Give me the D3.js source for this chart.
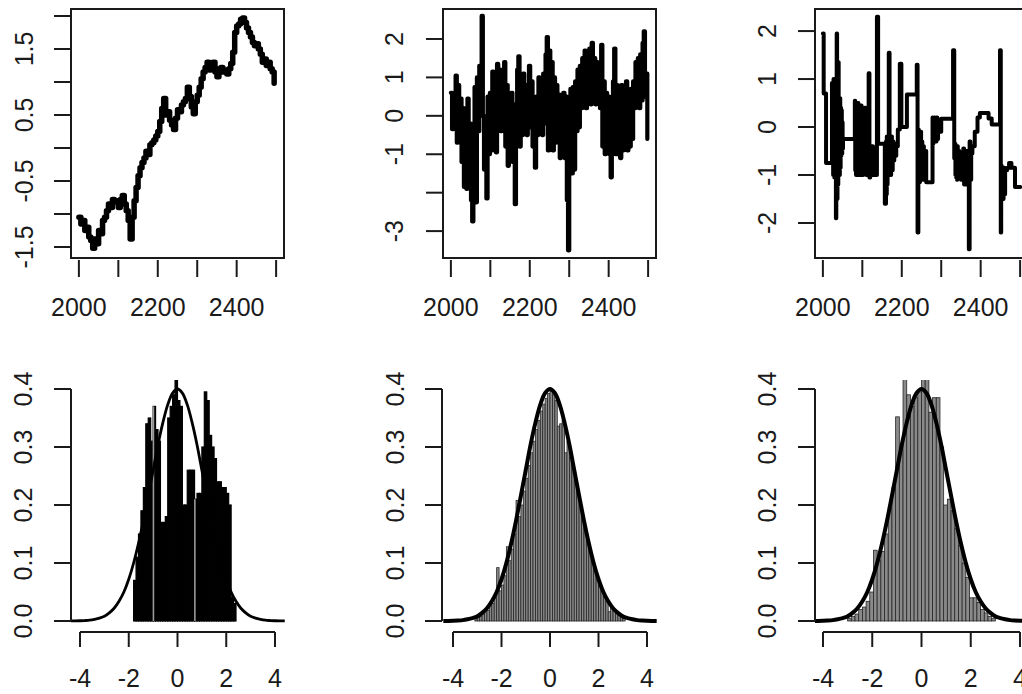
<!DOCTYPE html>
<html><head><meta charset="utf-8">
<script src="https://cdn.jsdelivr.net/npm/d3@7"></script>
<style>
html,body{margin:0;padding:0;background:#fff;}
svg{display:block;}
text{font-family:"Liberation Sans",Arial,sans-serif;font-size:25px;fill:#1a1a1a;}
</style></head>
<body>
<div id="chart"></div>
<script>
// ---------------- DATA ----------------
// Panel 1: random walk (every 5 years from 2000)
const rwStart = 2000, rwStep = 5;
const rwValues = [-1.05,-1.15,-1.10,-1.25,-1.20,-1.35,-1.40,-1.52,-1.38,-1.45,
  -1.25,-1.30,-1.10,-1.05,-0.95,-0.85,-0.90,-0.78,-0.82,-0.80,
  -0.90,-0.78,-0.72,-0.85,-0.95,-1.10,-1.38,-1.05,-0.80,-0.60,
  -0.42,-0.30,-0.22,-0.15,-0.05,-0.10,0.05,0.08,0.12,0.18,
  0.25,0.40,0.60,0.75,0.50,0.55,0.42,0.35,0.28,0.45,
  0.58,0.55,0.65,0.70,0.75,0.92,0.78,0.62,0.52,0.70,
  0.80,0.92,1.05,1.15,1.22,1.30,1.18,1.28,1.30,1.15,
  1.08,1.20,1.22,1.15,1.18,1.12,1.20,1.28,1.45,1.75,
  1.85,1.88,1.95,1.97,1.90,1.82,1.75,1.68,1.60,1.55,
  1.58,1.50,1.42,1.30,1.35,1.25,1.30,1.20,1.15,0.98];

// Panel 2: stationary noisy series (every 3 years from 2000)
const nzStart = 2000, nzStep = 3;
const nzValues = [0.60,-0.35,0.50,-0.30,1.05,-0.70,0.80,-0.50,0.45,-1.20,
  0.20,-1.85,-0.30,-1.90,0.45,-1.70,-0.20,-2.20,-2.75,-1.90,
  0.75,-2.25,1.00,-0.40,1.30,0.00,2.60,0.00,-1.40,-0.20,
  -2.15,0.50,-1.00,0.60,-0.90,1.15,-0.60,0.90,-0.95,1.35,
  -0.30,1.20,-0.40,1.00,0.10,1.40,-0.80,0.80,-1.30,0.50,
  -0.90,0.60,-1.20,0.30,-2.30,-0.40,1.20,1.55,-0.80,0.90,
  -0.50,1.10,-0.40,0.80,-0.50,0.60,1.30,-0.30,0.90,-0.80,
  0.40,-1.35,0.50,-0.50,1.00,-0.30,0.90,-0.50,1.10,-0.20,
  1.60,2.05,-0.90,1.70,-0.60,1.40,-0.90,1.00,-0.70,0.80,
  -0.40,0.55,-1.10,0.40,-0.90,0.60,-1.10,0.50,-2.20,-3.50,
  -1.20,0.70,-1.50,0.75,-1.40,0.90,-0.40,1.20,-0.30,1.30,
  0.20,1.50,0.30,1.70,0.20,1.60,0.40,1.75,0.30,1.90,
  0.40,1.50,0.30,1.40,0.35,1.30,0.20,1.85,-0.80,0.90,
  -1.00,0.60,-0.90,0.50,-1.00,-1.60,0.20,0.90,1.75,-1.00,
  0.80,-1.00,0.70,-1.10,0.80,-0.90,0.70,-0.80,0.90,-0.90,
  0.60,-0.80,0.70,-0.60,0.90,0.20,1.40,0.30,1.50,0.20,
  1.60,0.40,1.90,2.20,0.50,1.10,-0.60];

// Panel 3: regime-switching step series, [year, value]
const swPoints = [
  [2000,1.95],[2002,0.70],[2008,-0.75],
  [2023,0.92],[2024,-0.70],[2025,0.40],[2026,-1.00],[2027,1.00],[2028,-0.60],[2029,-1.05],[2030,0.60],
  [2031,-0.80],[2032,0.50],[2033,-1.90],[2034,0.20],[2035,1.95],[2036,-1.50],[2037,0.80],[2038,-1.20],
  [2039,1.35],[2040,-0.90],[2041,0.50],[2042,-1.00],[2043,0.60],[2044,-0.85],[2045,0.40],[2046,-0.60],
  [2047,0.35],[2048,-0.55],[2049,0.10],[2050,-0.45],[2051,-0.25],
  [2081,0.55],[2082,-0.90],[2083,0.50],[2084,-1.00],[2085,0.30],[2086,-0.95],[2087,0.45],[2088,-0.70],
  [2089,0.50],[2090,-1.00],[2091,0.20],[2092,-0.95],[2093,0.40],[2094,-0.80],[2095,0.30],[2096,-1.00],
  [2097,0.45],[2098,-0.60],[2099,0.20],[2100,-1.00],[2102,0.00],[2104,-0.95],[2106,0.40],[2108,-0.60],
  [2110,-1.00],[2112,0.10],[2114,-0.90],[2116,1.12],[2118,-1.05],[2120,-0.40],[2122,-1.00],[2124,-0.40],[2127,-1.00],
  [2137,2.30],[2140,-0.35],
  [2157,-1.60],[2158,-0.40],[2159,-1.60],[2160,-0.30],[2161,-1.40],[2162,-0.20],[2163,-1.20],[2164,-0.40],
  [2165,-1.00],[2167,1.55],[2169,-0.50],[2171,-1.00],[2173,-0.20],[2175,-0.90],[2177,-0.30],[2179,-0.70],
  [2181,-0.35],[2183,-0.60],[2186,-0.40],[2190,-0.05],[2195,1.32],[2199,0.00],[2213,0.68],[2238,1.30],[2240,-2.20],
  [2242,-0.05],[2243,-1.10],[2244,-0.10],[2245,-1.15],[2246,-0.20],[2247,-1.00],[2248,-0.10],[2249,-1.10],
  [2250,-0.30],[2252,-1.00],[2254,-0.40],[2256,-1.10],[2258,-0.50],[2262,-1.15],
  [2278,0.20],[2279,-0.35],[2280,0.15],[2281,-0.30],[2282,0.20],[2283,-0.25],[2284,0.15],[2286,-0.30],
  [2288,0.20],[2290,-0.25],[2292,0.15],[2295,-0.10],[2300,0.17],[2330,1.60],[2333,-0.65],
  [2335,-0.35],[2336,-1.00],[2337,-0.40],[2338,-1.05],[2339,-0.55],[2340,-1.10],[2341,-0.40],[2342,-1.00],
  [2344,-0.50],[2346,-1.05],[2348,-0.55],[2350,-1.10],[2352,-0.60],[2354,-0.85],[2356,-0.45],[2358,-1.20],
  [2360,-0.60],[2362,-1.00],[2364,-0.50],[2366,-1.20],[2368,-0.80],[2370,-2.55],[2372,-0.30],[2374,-1.10],
  [2376,-0.55],[2379,-0.40],[2385,-0.10],[2392,0.20],[2398,0.29],[2420,0.18],[2428,0.05],
  [2449,1.60],[2451,-2.20],[2452,-0.80],[2453,-1.50],[2454,-0.85],[2455,-1.45],[2456,-0.90],[2457,-1.50],
  [2458,-0.85],[2460,-1.40],[2462,-0.90],[2467,-0.85],[2472,-0.75],[2478,-0.85],[2487,-1.25],[2500,-1.25]
];

// Shared density curve (x from -4.4 to 4.4 by 0.2)
const densX = [-4.4,-4.2,-4.0,-3.8,-3.6,-3.4,-3.2,-3.0,-2.8,-2.6,-2.4,-2.2,-2.0,-1.8,-1.6,-1.4,-1.2,-1.0,-0.8,-0.6,-0.4,-0.2,
  0.0,0.2,0.4,0.6,0.8,1.0,1.2,1.4,1.6,1.8,2.0,2.2,2.4,2.6,2.8,3.0,3.2,3.4,3.6,3.8,4.0,4.2,4.4];
const densY = [0.0001,0.0002,0.0004,0.0008,0.0015,0.003,0.005,0.008,0.014,0.022,0.034,0.050,0.072,0.100,0.134,0.173,0.216,0.260,0.304,0.342,0.373,0.393,
  0.400,0.393,0.373,0.342,0.304,0.260,0.216,0.173,0.134,0.100,0.072,0.050,0.034,0.022,0.014,0.008,0.005,0.003,0.0015,0.0008,0.0004,0.0002,0.0001];

// Histogram 1 (bins of 0.1 from -1.8)
const h1Start = -1.8, h1Width = 0.1;
const h1Heights = [0.07,0.11,0.15,0.19,0.23,0.34,0.35,0.31,0.37,0.33,
  0.31,0.17,0.17,0.18,0.35,0.37,0.39,0.415,0.38,0.37,
  0.20,0.20,0.26,0.26,0.26,0.21,0.22,0.22,0.30,0.395,
  0.38,0.32,0.30,0.28,0.24,0.24,0.23,0.23,0.22,0.20,
  0.04,0.03];
const h1Light = [-1.0, 0.7];

// Histogram 2 (bins of 0.1 from -3.1)
const h2Start = -3.1, h2Width = 0.1;
const h2Heights = [0.004,0.006,0.008,0.012,0.016,0.018,0.026,0.030,0.040,0.092,
  0.052,0.062,0.078,0.128,0.104,0.124,0.150,0.208,0.180,0.200,
  0.224,0.246,0.268,0.290,0.310,0.330,0.346,0.362,0.374,0.384,
  0.392,0.396,0.390,0.380,0.336,0.340,0.346,0.290,0.310,0.282,
  0.268,0.246,0.224,0.200,0.180,0.160,0.140,0.122,0.106,0.090,
  0.076,0.064,0.052,0.044,0.036,0.016,0.024,0.018,0.014,0.010,
  0.008,0.005];

// Histogram 3 (bins of 0.15 from -3.0)
const h3Start = -3.0, h3Width = 0.15;
const h3Heights = [0.004,0.008,0.012,0.020,0.024,0.034,0.050,0.122,0.105,0.120,
  0.150,0.195,0.230,0.352,0.300,0.430,0.390,0.370,0.385,0.395,
  0.430,0.430,0.360,0.385,0.385,0.300,0.200,0.210,0.190,0.160,
  0.130,0.100,0.075,0.040,0.040,0.032,0.020,0.014,0.008,0.004];

// Ticks
const yearTicks = [2000,2100,2200,2300,2400,2500];
const yearLabels = [2000,2200,2400];
const p1YTicks = [-1.5,-1.0,-0.5,0.0,0.5,1.0,1.5,2.0];
const p1YLabels = ["-1.5","-0.5","0.5","1.5"];
const p2YTicks = [-3,-2,-1,0,1,2];
const p2YLabels = ["-3","-1","0","1","2"];
const p3YTicks = [-2,-1,0,1,2];
const p3YLabels = ["-2","-1","0","1","2"];
const hxTicks = [-4,-2,0,2,4];
const hyTicks = [0.0,0.1,0.2,0.3,0.4];
const hyLabels = ["0.0","0.1","0.2","0.3","0.4"];

// ---------------- LAYOUT ----------------
const W = 1022, H = 694;
const svg = d3.select("#chart").append("svg").attr("width", W).attr("height", H);

const topPanels = [
  {box:[71,284,9,258], yDom:[-1.667,2.106], labelX:24, yTicks:p1YTicks, yLabels:p1YLabels,
   data: rwValues.map((v,i)=>[rwStart+i*rwStep, v]), sw:5.5},
  {box:[443,656,9,258], yDom:[-3.70,2.78], labelX:394, yTicks:p2YTicks, yLabels:p2YLabels,
   data: nzValues.map((v,i)=>[nzStart+i*nzStep, v]), sw:4.2},
  {box:[815,1028,9,258], yDom:[-2.73,2.46], labelX:767, yTicks:p3YTicks, yLabels:p3YLabels,
   data: swPoints, sw:4}
];

topPanels.forEach((p,pi)=>{
  const [x0,x1,y0,y1] = p.box;
  const x = d3.scaleLinear().domain([1980,2520]).range([x0,x1]);
  const y = d3.scaleLinear().domain(p.yDom).range([y1,y0]);
  const g = svg.append("g");
  const cid = "clipT"+pi;
  svg.append("clipPath").attr("id",cid).append("rect")
    .attr("x",x0).attr("y",y0).attr("width",x1-x0).attr("height",y1-y0);
  g.append("path").datum(p.data)
    .attr("clip-path","url(#"+cid+")")
    .attr("fill","none").attr("stroke","#000").attr("stroke-width",p.sw)
    .attr("stroke-linejoin","round").attr("stroke-linecap","round")
    .attr("d", d3.line().x(d=>x(d[0])).y(d=>y(d[1])).curve(d3.curveStepAfter));
  // box
  g.append("rect").attr("x",x0).attr("y",y0).attr("width",x1-x0).attr("height",y1-y0)
    .attr("fill","none").attr("stroke","#1a1a1a").attr("stroke-width",2);
  // y axis ticks
  g.selectAll(".yt").data(p.yTicks).enter().append("line")
    .attr("x1",x0-17).attr("x2",x0).attr("y1",d=>y(d)).attr("y2",d=>y(d))
    .attr("stroke","#1a1a1a").attr("stroke-width",2);
  g.selectAll(".yl").data(p.yLabels).enter().append("text")
    .attr("text-anchor","middle").attr("dominant-baseline","central")
    .attr("transform",d=>`translate(${p.labelX},${y(+d)}) rotate(-90)`)
    .text(d=>d);
  // x axis ticks
  g.selectAll(".xt").data(yearTicks).enter().append("line")
    .attr("x1",d=>x(d)).attr("x2",d=>x(d)).attr("y1",y1+2).attr("y2",y1+19)
    .attr("stroke","#1a1a1a").attr("stroke-width",2);
  g.selectAll(".xl").data(yearLabels).enter().append("text")
    .attr("text-anchor","middle").attr("x",d=>x(d)).attr("y",316).text(d=>d);
});

const botPanels = [
  {axisX:71, xr:[80,275], clip:[71,286], labelX:23, start:h1Start, w:h1Width, heights:h1Heights,
   fill:"#000", stroke:"#000", strokeW:1.2, light:h1Light, curveW:2.8},
  {axisX:442, xr:[453,647], clip:[442,657], labelX:395, start:h2Start, w:h2Width, heights:h2Heights,
   fill:"#8a8a8a", stroke:"#262626", strokeW:0.8, light:[], curveW:4},
  {axisX:815, xr:[823,1020], clip:[815,1030], labelX:767, start:h3Start, w:h3Width, heights:h3Heights,
   fill:"#8a8a8a", stroke:"#262626", strokeW:0.8, light:[], curveW:4}
];

botPanels.forEach((p,pi)=>{
  const x = d3.scaleLinear().domain([-4,4]).range(p.xr);
  const y = d3.scaleLinear().domain([0,0.4]).range([621,389]);
  const g = svg.append("g");
  const cid = "clipB"+pi;
  svg.append("clipPath").attr("id",cid).append("rect")
    .attr("x",p.clip[0]).attr("y",380).attr("width",p.clip[1]-p.clip[0]).attr("height",250);
  const bins = p.heights.map((h,i)=>({x0:p.start+i*p.w, x1:p.start+(i+1)*p.w, h:h}));
  const gb = g.append("g").attr("clip-path","url(#"+cid+")");
  gb.selectAll("rect").data(bins).enter().append("rect")
    .attr("x",d=>x(d.x0)).attr("width",d=>x(d.x1)-x(d.x0))
    .attr("y",d=>y(d.h)).attr("height",d=>y(0)-y(d.h))
    .attr("fill",p.fill)
    .attr("stroke",p.stroke).attr("stroke-width",p.strokeW);
  // lighter separator stripes (histogram 1 only)
  gb.selectAll(".lt").data(bins.filter(d=>p.light.some(l=>Math.abs(l-d.x0)<1e-6))).enter().append("line")
    .attr("x1",d=>x(d.x0)+0.3).attr("x2",d=>x(d.x0)+0.3)
    .attr("y1",d=>y(d.h)).attr("y2",y(0))
    .attr("stroke","#9a9a9a").attr("stroke-width",1.6);
  gb.append("path").datum(densX.map((v,i)=>[v,densY[i]]))
    .attr("fill","none").attr("stroke","#000").attr("stroke-width",p.curveW)
    .attr("stroke-linejoin","round")
    .attr("d", d3.line().x(d=>x(d[0])).y(d=>y(d[1])).curve(d3.curveCatmullRom));
  // y axis
  g.append("line").attr("x1",p.axisX).attr("x2",p.axisX).attr("y1",y(0)).attr("y2",y(0.4))
    .attr("stroke","#1a1a1a").attr("stroke-width",2);
  g.selectAll(".yt").data(hyTicks).enter().append("line")
    .attr("x1",p.axisX-17).attr("x2",p.axisX).attr("y1",d=>y(d)).attr("y2",d=>y(d))
    .attr("stroke","#1a1a1a").attr("stroke-width",2);
  g.selectAll(".yl").data(hyLabels).enter().append("text")
    .attr("text-anchor","middle").attr("dominant-baseline","central")
    .attr("transform",d=>`translate(${p.labelX},${y(+d)}) rotate(-90)`)
    .text(d=>d);
  // x axis
  g.append("line").attr("x1",x(-4)).attr("x2",x(4)).attr("y1",632).attr("y2",632)
    .attr("stroke","#1a1a1a").attr("stroke-width",2);
  g.selectAll(".xt").data(hxTicks).enter().append("line")
    .attr("x1",d=>x(d)).attr("x2",d=>x(d)).attr("y1",632).attr("y2",647)
    .attr("stroke","#1a1a1a").attr("stroke-width",2);
  g.selectAll(".xl").data(hxTicks).enter().append("text")
    .attr("text-anchor","middle").attr("x",d=>x(d)).attr("y",687).text(d=>d);
});
</script>
</body></html>
